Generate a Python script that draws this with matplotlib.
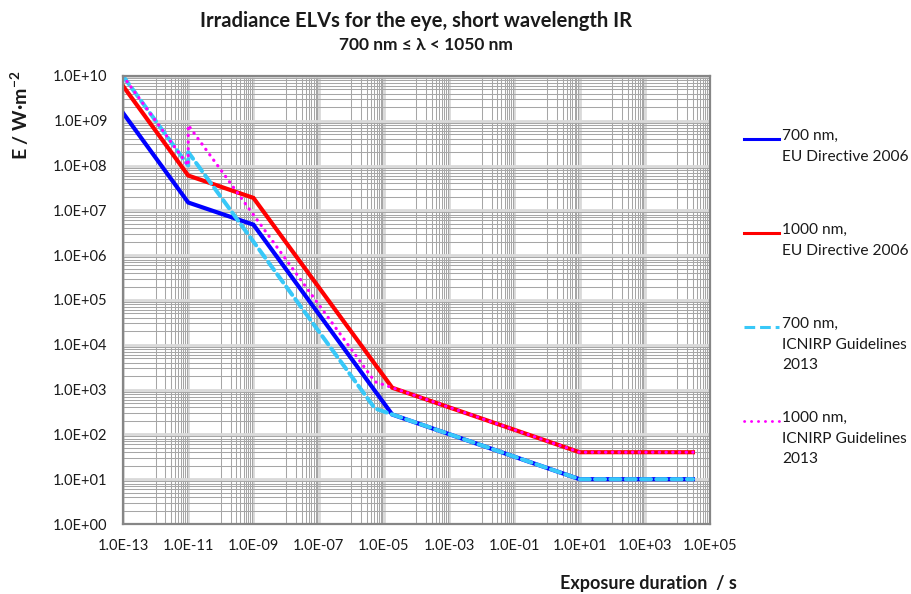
import numpy as np
import matplotlib
matplotlib.use("Agg")
import matplotlib.pyplot as plt
from matplotlib.lines import Line2D
from matplotlib.ticker import FixedLocator, FixedFormatter, NullFormatter

plt.rcParams['font.family'] = ['Lato', 'DejaVu Sans']
plt.rcParams['mathtext.default'] = 'regular'

# exposure durations (s) and irradiance limits (W/m^2), breakpoints
t_eu = [1e-13, 1e-11, 1e-9, 1.8e-5, 10, 3e4]
e_eu_700 = [1.5e9, 1.5e7, 4.8e6, 278, 10, 10]
e_eu_1000 = [6.0e9, 6.0e7, 1.9e7, 1.1e3, 40, 40]

t_icn = [1e-13, 1e-11, 1e-11, 5.3e-6, 10, 3e4]
e_icn_700 = [1e10, 1e8, 2e8, 380, 10, 10]
e_icn_1000 = [1e10, 1e8, 8e8, 1.5e3, 40, 40]

labels = ["700 nm,\nEU Directive 2006",
          "1000 nm,\nEU Directive 2006",
          "700 nm,\nICNIRP Guidelines\n2013",
          "1000 nm,\nICNIRP Guidelines\n2013"]

xticks = [10.0**k for k in range(-13, 6, 2)]
xticklabels = ["1.0E-13", "1.0E-11", "1.0E-09", "1.0E-07", "1.0E-05",
               "1.0E-03", "1.0E-01", "1.0E+01", "1.0E+03", "1.0E+05"]
yticks = [10.0**k for k in range(0, 11)]
yticklabels = ["1.0E+%02d" % k for k in range(0, 11)]

blue = '#0000ff'
red = '#ff0000'
cyan = '#38c8f8'
magenta = '#ff00ff'
txt = '#1a1a1a'

fig = plt.figure(figsize=(9.12, 5.94), dpi=100)
ax = fig.add_axes([123/912, 1-524/594, (710-123)/912, (524-76)/594])

ax.set_xscale('log')
ax.set_yscale('log')
ax.set_xlim(1e-13, 1e5)
ax.set_ylim(1, 1e10)

# grid like the excel chart
xminor = [n*10.0**k for k in range(-12, 5, 2) for n in range(1, 10)]
yminor = [n*10.0**k for k in range(0, 10) for n in range(2, 10)]
ax.xaxis.set_major_locator(FixedLocator(xticks))
ax.xaxis.set_major_formatter(FixedFormatter(xticklabels))
ax.xaxis.set_minor_locator(FixedLocator(xminor))
ax.xaxis.set_minor_formatter(NullFormatter())
ax.yaxis.set_major_locator(FixedLocator(yticks))
ax.yaxis.set_major_formatter(FixedFormatter(yticklabels))
ax.yaxis.set_minor_locator(FixedLocator(yminor))
ax.yaxis.set_minor_formatter(NullFormatter())
ax.grid(which='major', color='#d9d9d9', lw=2.0)
ax.grid(which='minor', color='#a6a6a6', lw=0.75)
ax.set_axisbelow(True)
ax.tick_params(which='both', length=0)
ax.tick_params(axis='x', pad=11, labelsize=10.5, colors=txt)
ax.tick_params(axis='y', pad=11, labelsize=10.5, colors=txt)
for s in ax.spines.values():
    s.set_color('#868686')
    s.set_linewidth(1.6)

ax.plot(t_eu, e_eu_700, color=blue, lw=3.0, solid_joinstyle='miter')
ax.plot(t_eu, e_eu_1000, color=red, lw=3.0, solid_joinstyle='miter')
ax.plot(t_icn, e_icn_700, color=cyan, lw=2.9, dashes=(2.5, 1.3), dash_capstyle='round')
ax.plot(t_icn, e_icn_1000, color=magenta, lw=2.3, linestyle=(0, (0.1, 2.0)), dash_capstyle='round')

fig.text(416/912, 1-21/594, "Irradiance ELVs for the eye, short wavelength IR",
         ha='center', va='center', fontsize=14.5, fontweight='bold', color=txt)
fig.text(426/912, 1-45/594, "700 nm ≤ λ < 1050 nm",
         ha='center', va='center', fontsize=12.5, fontweight='bold', color=txt)
fig.text(20/912, 1-115/594, "E / W·m$^{-2}$", rotation=90,
         ha='center', va='center', fontsize=14, fontweight='bold', color=txt)
fig.text(648/912, 1-583/594, "Exposure duration  / s",
         ha='center', va='center', fontsize=13, fontweight='bold', color=txt)

# legend, handle next to the first line of each label
styles = [dict(color=blue, lw=2.2), dict(color=red, lw=2.2),
          dict(color=cyan, lw=2.2, dashes=(3.5, 1.6)),
          dict(color=magenta, lw=2.0, linestyle=(0, (0.1, 2.4)), dash_capstyle='round')]
ys = [139, 233, 327, 421]
for y, st, lab in zip(ys, styles, labels):
    fig.add_artist(Line2D([744/912, 779/912], [1-y/594, 1-y/594], **st))
    fig.text(782/912, 1-(y-10)/594, lab, ha='left', va='top', fontsize=11.2,
             color=txt, linespacing=1.6)

fig.savefig('out.png', dpi=100)
